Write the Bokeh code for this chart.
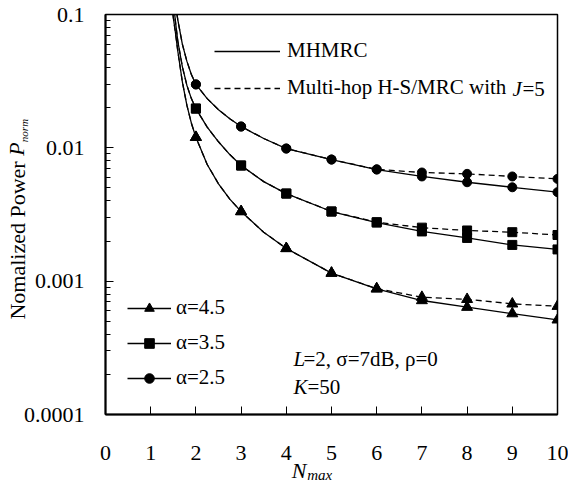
from bokeh.plotting import figure
from bokeh.models import Range1d, FixedTicker, Legend, LegendItem, Label, LinearAxis
from bokeh.embed import file_html
from bokeh.resources import INLINE

# ---------------- data ----------------
n_max = [1.45, 1.5, 1.55, 1.6, 1.7, 1.8, 1.9, 2, 2.25, 2.5, 2.75, 3, 3.5, 4, 5, 6, 7, 8, 9, 10]

# alpha = 4.5
p45_mhmrc = [0.14, 0.095, 0.072, 0.053, 0.0313, 0.0209, 0.0153, 0.012, 0.0075, 0.00537, 0.00412,
             0.00333, 0.00233, 0.00176, 0.00115, 0.000875, 0.000716, 0.000638, 0.000571, 0.000513]
p45_hs = [0.14, 0.095, 0.072, 0.053, 0.0313, 0.0209, 0.0153, 0.012, 0.0075, 0.00537, 0.00412,
          0.00333, 0.00233, 0.00176, 0.00115, 0.00088, 0.000758, 0.000731, 0.000676, 0.000649]
# alpha = 3.5
p35_mhmrc = [0.22, 0.126, 0.087, 0.063, 0.0407, 0.0295, 0.0234, 0.0197, 0.0143, 0.0111, 0.0089,
             0.00737, 0.00558, 0.00454, 0.00333, 0.00275, 0.00236, 0.00211, 0.00187, 0.00173]
p35_hs = [0.22, 0.126, 0.087, 0.063, 0.0407, 0.0295, 0.0234, 0.0197, 0.0143, 0.0111, 0.0089,
          0.00737, 0.00558, 0.00454, 0.00333, 0.00277, 0.00252, 0.0024, 0.00233, 0.00222]
# alpha = 2.5
p25_mhmrc = [0.28, 0.178, 0.117, 0.091, 0.060, 0.0447, 0.0355, 0.0299, 0.0234, 0.0193, 0.0165,
             0.01445, 0.01175, 0.00988, 0.00817, 0.00687, 0.0061, 0.00552, 0.00506, 0.00465]
p25_hs = [0.28, 0.178, 0.117, 0.091, 0.060, 0.0447, 0.0355, 0.0299, 0.0234, 0.0193, 0.0165,
          0.01445, 0.01175, 0.00988, 0.00817, 0.0069, 0.00653, 0.00638, 0.0061, 0.00585]

alpha_labels = ["\u03b1=4.5", "\u03b1=3.5", "\u03b1=2.5"]
scheme_labels = ["MHMRC", "Multi-hop H-S/MRC with "]

x_ticks = [0, 1, 2, 3, 4, 5, 6, 7, 8, 9, 10]
x_tick_labels = ["0", "1", "2", "3", "4", "5", "6", "7", "8", "9", "10"]
y_ticks = [0.0001, 0.001, 0.01, 0.1]
y_tick_labels = ["0.0001", "0.001", "0.01", "0.1"]
y_minor = [k * 10.0 ** e for e in (-4, -3, -2) for k in range(2, 10)]

FONT = "Liberation Serif"
FRAME_L, FRAME_T, FRAME_B = 105, 14, 414   # frame edges in canvas pixels
PX_PER_X = 45.2
PX_PER_DECADE = 133.333

p = figure(width=568, height=487, x_range=Range1d(0, 10), y_range=Range1d(0.0001, 0.1),
           y_axis_type="log", output_backend="svg", toolbar_location=None,
           min_border_left=105, min_border_right=11, min_border_top=14, min_border_bottom=73)
p.xgrid.visible = False
p.ygrid.visible = False
p.outline_line_color = "black"
p.outline_line_width = 1.5
p.background_fill_color = "white"
p.border_fill_color = "white"

# axes
p.xaxis.ticker = FixedTicker(ticks=x_ticks)
p.xaxis.major_label_overrides = {t: l for t, l in zip(x_ticks, x_tick_labels)}
p.yaxis.ticker = FixedTicker(ticks=y_ticks, minor_ticks=y_minor)
p.yaxis.major_label_overrides = {t: l for t, l in zip(y_ticks, y_tick_labels)}
for ax in (p.xaxis, p.yaxis):
    ax.axis_line_width = 2
    ax.axis_line_color = "black"
    ax.major_tick_in = 8
    ax.major_tick_out = 0
    ax.major_tick_line_color = "black"
    ax.major_tick_line_width = 1
    ax.minor_tick_line_color = "black"
    ax.major_label_text_font = FONT
    ax.major_label_text_font_size = "22px"
    ax.major_label_text_color = "black"
p.xaxis.minor_tick_in = 0
p.xaxis.minor_tick_out = 0
p.yaxis.minor_tick_in = 5
p.yaxis.minor_tick_out = 0
p.xaxis.major_label_standoff = 31
p.yaxis.major_label_standoff = 21

# curves
series = [(p45_mhmrc, p45_hs, "triangle", 11), (p35_mhmrc, p35_hs, "square", 9), (p25_mhmrc, p25_hs, "circle", 9)]
legend_alpha_items = []
solid_ref = None
dash_ref = None
for (solid, dashed, marker, msize), lab_txt in zip(series, alpha_labels):
    r_s = p.line(n_max, solid, line_color="black", line_width=1.3)
    r_d = p.line(n_max, dashed, line_color="black", line_width=1.3, line_dash="6 4")
    mx = [x for x in n_max if x >= 2 and float(x).is_integer()]
    ms = [v for x, v in zip(n_max, solid) if x >= 2 and float(x).is_integer()]
    md = [v for x, v in zip(n_max, dashed) if x >= 2 and float(x).is_integer()]
    p.scatter(mx, md, marker=marker, size=msize, fill_color="black", line_color="black")
    r_m = p.scatter(mx, ms, marker=marker, size=msize, fill_color="black", line_color="black")
    legend_alpha_items.append(LegendItem(label=lab_txt, renderers=[r_s, r_m]))
    solid_ref, dash_ref = r_s, r_d

# legends (location = bottom-left corner, relative to the frame)
leg_scheme = Legend(items=[LegendItem(label=scheme_labels[0], renderers=[solid_ref]),
                           LegendItem(label=scheme_labels[1], renderers=[dash_ref])],
                    location=(109, 314), orientation="vertical")
leg_alpha = Legend(items=legend_alpha_items, location=(22, 24), orientation="vertical")
for lg, gw, sp, st in ((leg_scheme, 66, 12, 7), (leg_alpha, 44, 10, 5)):
    lg.glyph_width = gw
    lg.glyph_height = 24
    lg.label_height = 24
    lg.spacing = sp
    lg.label_standoff = st
    lg.padding = 0
    lg.margin = 0
    lg.border_line_alpha = 0
    lg.background_fill_alpha = 0
    lg.label_text_font = FONT
    lg.label_text_font_size = "21px"
    lg.label_text_color = "black"
    p.add_layout(lg)


# canvas pixel -> data helpers (for annotation placement only)
def dx(px):
    return (px - FRAME_L) / PX_PER_X


def dy(py):
    return 10 ** (-1 - (py - FRAME_T) / PX_PER_DECADE)


def lab(text, px, py, size="21px", style="normal"):
    p.add_layout(Label(x=px - FRAME_L, y=FRAME_B - py, x_units="screen", y_units="screen",
                       text=text, text_font=FONT, text_font_size=size,
                       text_font_style=style, text_color="black",
                       text_baseline="middle", text_align="left"))


# legend J=5
lab("J", 512, 88, style="italic")
lab("=5", 522, 88)
# parameter annotation
lab("L", 293, 358, style="italic")
lab("=2,  \u03c3=7dB, \u03c1=0", 303, 358)
lab("K", 293, 386, style="italic")
lab("=50", 307, 386)


# axis titles: label-only axes stacked in the side panels, pulled together with standoffs
def title_axis(side, pos, text, size, style, orient, standoff):
    ax = LinearAxis(ticker=FixedTicker(ticks=[pos], minor_ticks=[]),
                    major_label_overrides={pos: text}, major_label_orientation=orient)
    ax.axis_line_alpha = 0
    ax.major_tick_line_alpha = 0
    ax.minor_tick_line_alpha = 0
    ax.major_tick_in = 0
    ax.major_tick_out = 0
    ax.minor_tick_in = 0
    ax.minor_tick_out = 0
    ax.major_label_standoff = standoff
    ax.major_label_text_font = FONT
    ax.major_label_text_font_size = size
    ax.major_label_text_font_style = style
    ax.major_label_text_color = "black"
    p.add_layout(ax, side)


# y title: "Nomalized Power P_norm" (reads bottom to top)
title_axis("left", dy(130), "norm", "11px", "italic", "vertical", -10)
title_axis("left", dy(240), "Nomalized Power", "22px", "normal", "vertical", -15)
title_axis("left", dy(148.5), "P", "22px", "italic", "vertical", -27)
# x title: "N_max"
title_axis("below", dx(319.2), "max", "15px", "italic", "horizontal", 4)
title_axis("below", dx(298.5), "N", "22px", "italic", "horizontal", -28)

open("out.html", "w").write(file_html(p, INLINE))
